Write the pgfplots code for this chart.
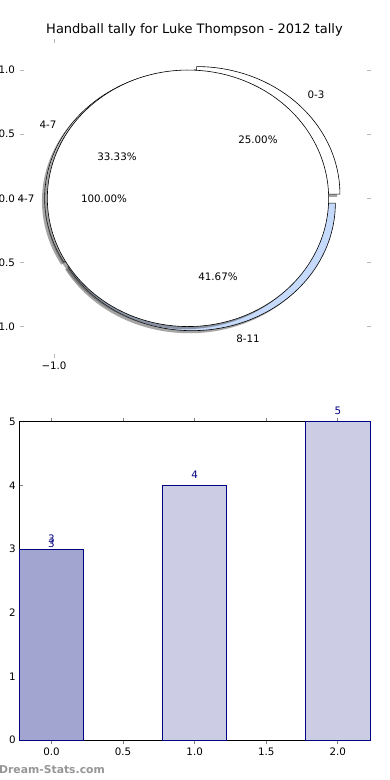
\documentclass[border=0pt]{standalone}
\usepackage{pgfplots}
\pgfplotsset{compat=1.18}
\usepackage{fontspec}
\setmainfont{DejaVu Sans}
\definecolor{wblue}{RGB}{198,218,252}
\definecolor{bardark}{RGB}{163,165,209}
\definecolor{barlight}{RGB}{204,204,229}
\definecolor{navy}{RGB}{0,0,128}
\definecolor{tickgray}{RGB}{185,185,185}
\definecolor{wmgray}{RGB}{150,150,150}

% tally values
\def\vA{3}\def\vB{4}\def\vC{5}
\pgfmathsetmacro\tot{\vA+\vB+\vC}
\pgfmathsetmacro\aA{360*\vA/\tot}
\pgfmathsetmacro\aB{\aA+360*\vB/\tot}
\pgfmathsetmacro\aC{\aB+360*\vC/\tot}

% wedge: cx, cy, rx, ry, a1, a2
\newcommand\pwedge[6]{(axis cs:#1,#2) -- plot[domain=#5:#6,samples=90,variable=\t] ({#1+#3*cos(\t)},{#2+#4*sin(\t)}) -- cycle}
\newcommand\pell[4]{plot[domain=0:360,samples=180,variable=\t] ({#1+#3*cos(\t)},{#2+#4*sin(\t)}) -- cycle}

\begin{document}
\begin{tikzpicture}[x=1pt,y=1pt]
\path[use as bounding box] (0,0) rectangle (390,780);

\node[font=\fontsize{13}{15}\selectfont, inner sep=0] at (194.5,750) {Handball tally for Luke Thompson - 2012 tally};

% ---------- pie ----------
\begin{axis}[at={(20pt,422pt)}, anchor=south west, scale only axis,
  width=351pt, height=319pt,
  xmin=-1.254, xmax=1.366, ymin=-1.245, ymax=1.242,
  axis line style={draw=none},
  tick pos=both,
  xtick={-1}, xticklabels={−1.0},
  ytick={-1,-0.5,0,0.5,1}, yticklabels={−1.0,−0.5,0.0,0.5,1.0},
  tick style={tickgray, line width=1pt}, major tick length=4pt,
  tick label style={font=\fontsize{10.3}{12}\selectfont},
  yticklabel style={xshift=-1.5pt},
  clip=false]
% shadows of outer wedges
\fill[black!70, opacity=0.5] \pwedge{0.064-0.02}{0.032-0.02}{1.07}{0.995}{0}{\aA};
\fill[black!70, opacity=0.5] \pwedge{-0.02}{-0.02}{1.07}{0.995}{\aA}{\aB};
\fill[black!70, opacity=0.5] \pwedge{0.03-0.02}{-0.037-0.02}{1.07}{0.995}{\aB}{\aC};
% outer wedges
\draw[black, line width=0.6pt, fill=white] \pwedge{0.064}{0.032}{1.07}{0.995}{0}{\aA};
\draw[black, line width=0.6pt, fill=white] \pwedge{0}{0}{1.07}{0.995}{\aA}{\aB};
\draw[black, line width=0.6pt, fill=wblue] \pwedge{0.03}{-0.037}{1.07}{0.995}{\aB}{\aC};
% inner pie shadow and pie
\fill[black!70, opacity=0.5] \pell{-0.02}{-0.02}{1.05}{1.0};
\draw[black, line width=0.6pt, fill=white] \pell{0}{0}{1.05}{1.0};
% labels
\begin{scope}[every node/.style={font=\fontsize{10.3}{12}\selectfont, inner sep=0}]
\node at (axis cs:0.955,0.805) {0-3};
\node at (axis cs:0.522,0.455) {25.00\%};
\node at (axis cs:-1.045,0.571) {4-7};
\node at (axis cs:-0.53,0.322) {33.33\%};
\node at (axis cs:-1.209,0.0) {4-7};
\node at (axis cs:-0.627,0.0) {100.00\%};
\node at (axis cs:0.224,-0.613) {41.67\%};
\node at (axis cs:0.448,-1.097) {8-11};
\end{scope}
\end{axis}

% ---------- bars ----------
\begin{axis}[at={(19.3pt,40pt)}, anchor=south west, scale only axis,
  width=350.7pt, height=318.3pt,
  xmin=-0.225, xmax=2.225, ymin=0, ymax=5,
  axis line style={black, line width=0.8pt},
  tick pos=both,
  xtick={0,0.5,1,1.5,2}, xticklabels={0.0,0.5,1.0,1.5,2.0},
  ytick={0,1,2,3,4,5},
  tick style={black!50, line width=1pt}, major tick length=4pt,
  tick label style={font=\fontsize{10.3}{12}\selectfont},
  /pgf/number format/assume math mode=true,
  ybar, bar width=0.45, bar shift=0pt,
  nodes near coords,
  every node near coord/.append style={navy, font=\fontsize{10.3}{12}\selectfont, yshift=3pt},
  clip=false]
\addplot[fill=bardark, draw=navy, line width=0.8pt] coordinates {(0,3)};
\addplot[fill=barlight, draw=navy, line width=0.8pt] coordinates {(1,4) (2,5)};
\addplot[draw=none, fill=none, every node near coord/.append style={yshift=-5pt}] coordinates {(0,3)};
\end{axis}

\node[anchor=west, text=wmgray, font=\bfseries\fontsize{10.8}{12}\selectfont, inner sep=0] at (-1,10) {Dream-Stats.com};
\end{tikzpicture}
\end{document}
